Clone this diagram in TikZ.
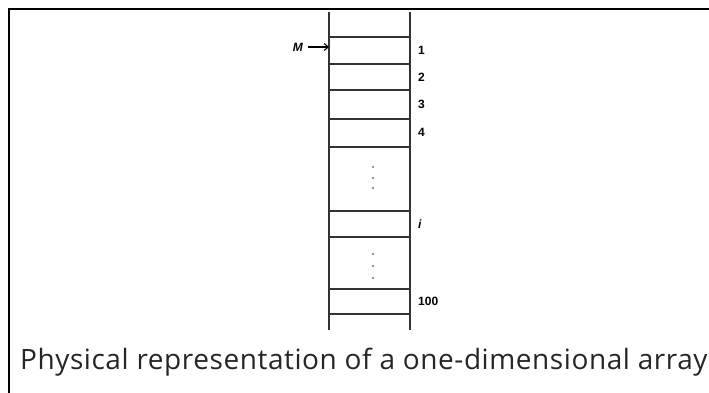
\documentclass[tikz,border=0pt]{standalone}
\usepackage{fontspec}
\setmainfont{Liberation Sans}
\newfontfamily\captionfont[LetterSpace=2]{Open Sans}
\usetikzlibrary{arrows.meta, positioning}

\begin{document}
\begin{tikzpicture}[
    x=1pt, y=-1pt,
    rail/.style={line width=1.7pt, black!80},
    rung/.style={line width=1.7pt, black!80},
    idx/.style={anchor=west, inner sep=0pt, font=\fontsize{12}{13}\selectfont\bfseries},
    vdots/.style={circle, fill=black!55, inner sep=0pt, minimum size=2.4pt},
    arr/.style={-{Straight Barb[length=4pt, width=7pt]}, line width=1.1pt}
]
\useasboundingbox (0,0) rectangle (709,393);

% Frame
\draw[line width=2.4pt] (9,393) -- (9,9) -- (709,9);

% Rails
\coordinate (lt) at (329,12);
\coordinate (lb) at (329,330);
\coordinate (rt) at (410,12);
\coordinate (rb) at (410,330);
\draw[rail] (lt) -- (lb);
\draw[rail] (rt) -- (rb);

% Rungs
\foreach \y in {37,64,90,119,147,211,237,289,314}
    \draw[rung] (329,\y) -- (410,\y);

% Gaps
\foreach \y in {167,178,188,254,266,278}
    \node[vdots] at (373,\y) {};

% Index labels
\node[idx] (one) at (418,50) {1};
\node[idx] (two) at (418,77) {2};
\node[idx] (three) at (418,104) {3};
\node[idx] (four) at (418,132) {4};
\node[idx] (ith) at (418,224) {\itshape i};
\node[idx] (last) at (418,301) {100};

% Base address
\node[idx, anchor=east] (base) at (303,47) {\itshape M};
\coordinate (start) at (329,47);
\draw[arr] (base.east) ++(5,0) -- (start);

% Caption
\node[anchor=base west, inner sep=0pt, font=\captionfont\fontsize{28}{32}\selectfont, text=black!85] (cap) at (20,369) {Physical representation of a one-dimensional array};
\end{tikzpicture}
\end{document}
